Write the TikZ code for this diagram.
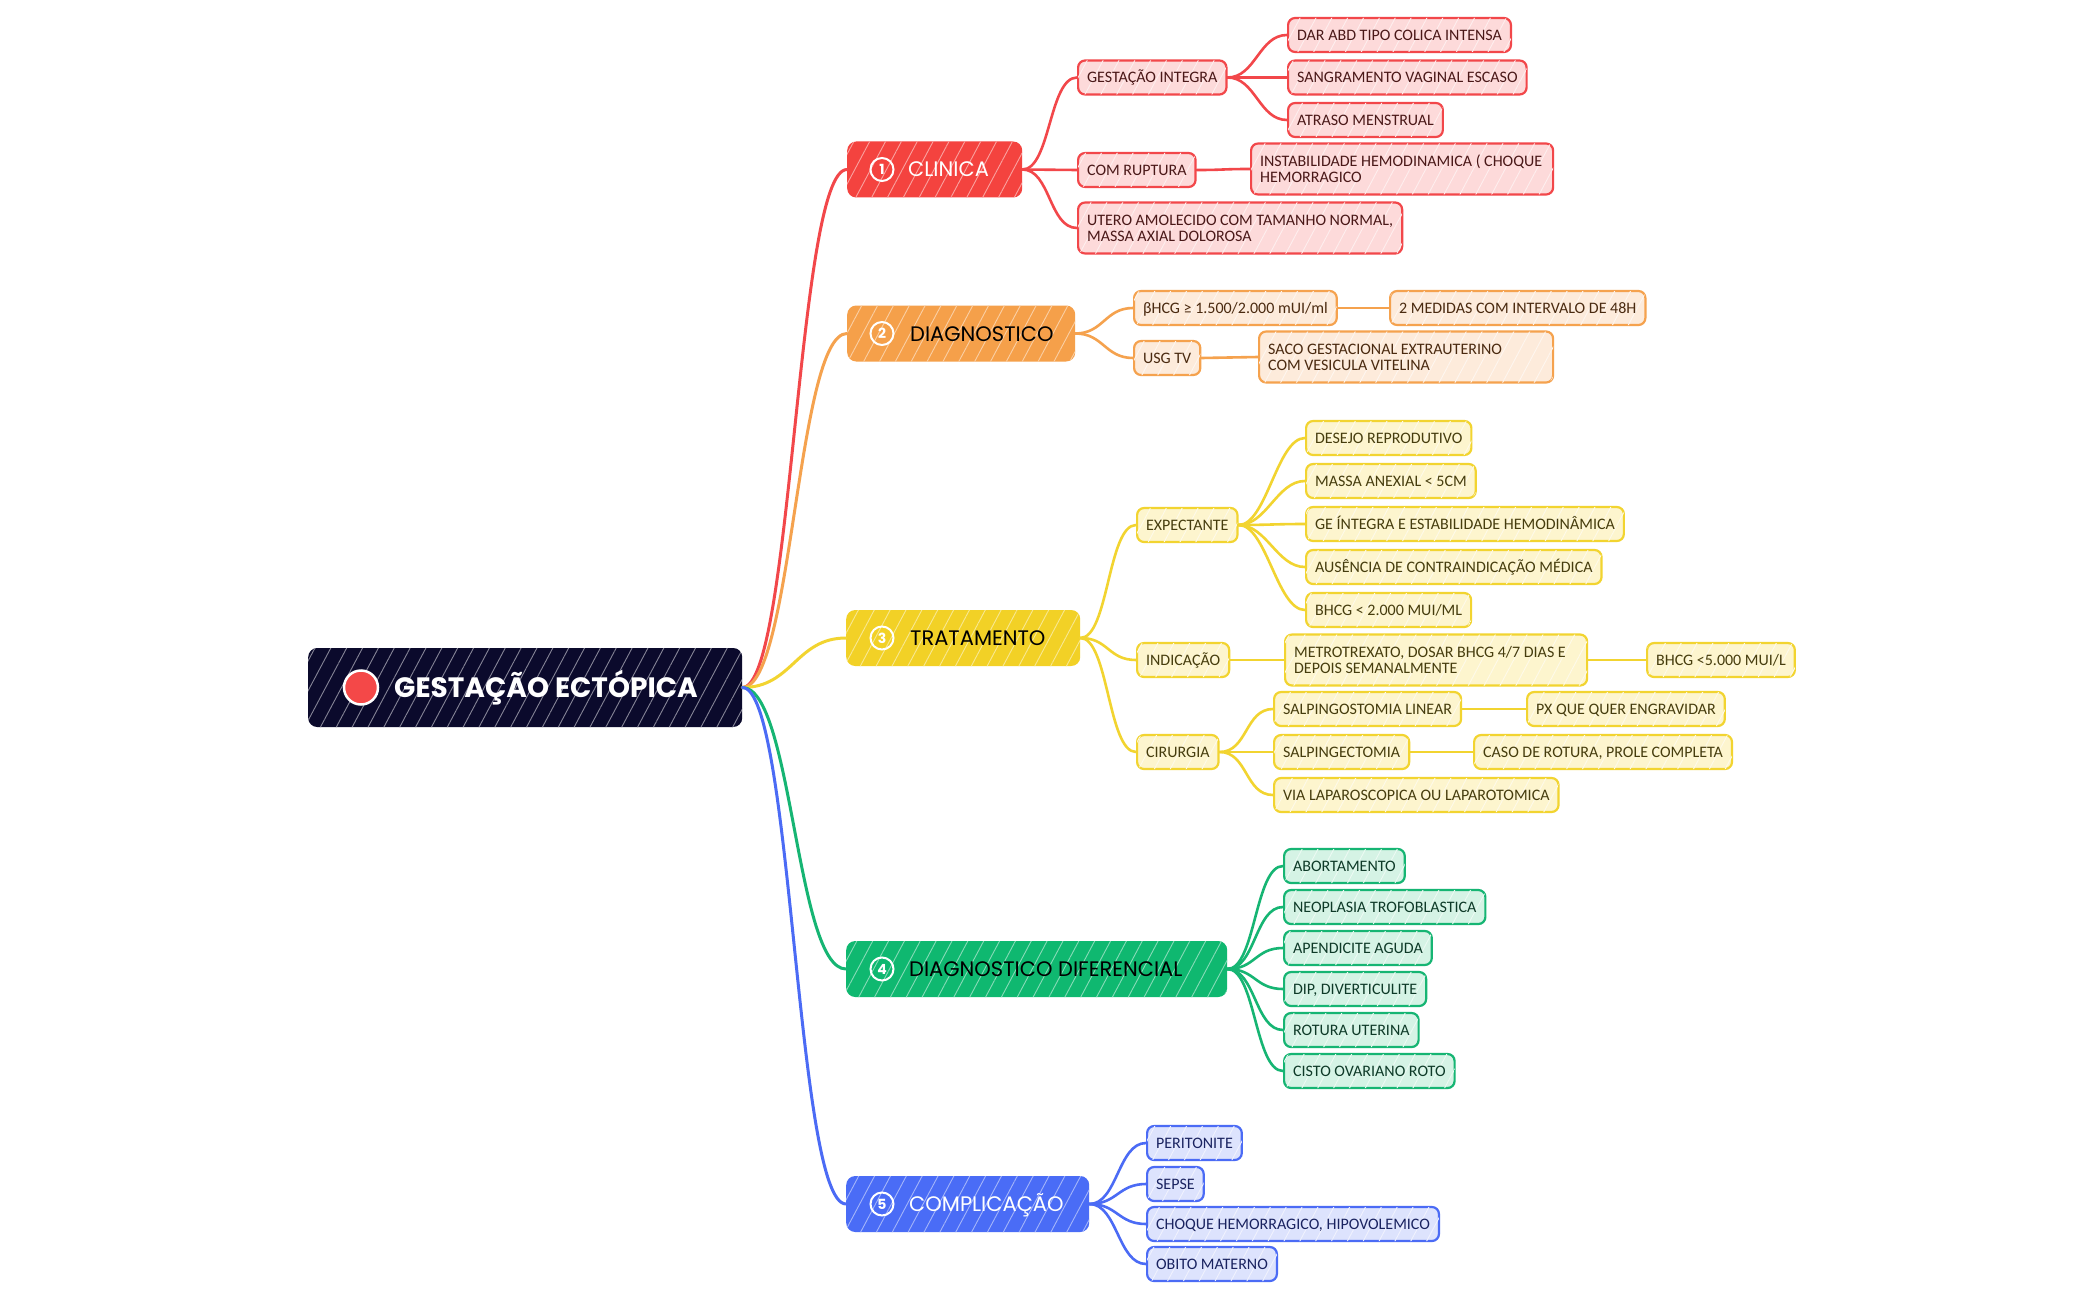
\documentclass[tikz,border=0pt]{standalone}
\usepackage{fontspec}
\setmainfont{Carlito}
\newfontfamily\hfont{Poppins}
\usetikzlibrary{patterns.meta}
\definecolor{rootC}{HTML}{0B0A2C}
\definecolor{dotC}{HTML}{F44848}
\definecolor{redH}{HTML}{F4433F}
\definecolor{redB}{HTML}{F2474A}
\definecolor{redF}{HTML}{FDDADA}
\definecolor{redT}{HTML}{4A1818}
\definecolor{orH}{HTML}{F5A04A}
\definecolor{orB}{HTML}{F5A24E}
\definecolor{orF}{HTML}{FDEBDB}
\definecolor{orT}{HTML}{4A2A10}
\definecolor{yeH}{HTML}{F2D126}
\definecolor{yeB}{HTML}{F2D430}
\definecolor{yeF}{HTML}{FDF5CE}
\definecolor{yeT}{HTML}{463D0E}
\definecolor{grH}{HTML}{0FB870}
\definecolor{grB}{HTML}{16B573}
\definecolor{grF}{HTML}{D5F3E5}
\definecolor{grT}{HTML}{0E3A28}
\definecolor{blH}{HTML}{4A6CF6}
\definecolor{blB}{HTML}{4B6BF5}
\definecolor{blF}{HTML}{DDE3FD}
\definecolor{blT}{HTML}{1A2360}
\tikzset{
  hatch/.style={postaction={pattern={Lines[angle=62,distance=14pt,line width=0.9pt]},pattern color=#1}},
  box/.style={draw, line width=2.2pt, rounded corners=7pt, inner xsep=9pt, inner ysep=0pt,
    minimum height=34pt, anchor=west, font=\fontsize{16}{16}\selectfont, text height=10.5pt, text depth=0pt},
  box2/.style={draw, line width=2.2pt, rounded corners=7pt, inner xsep=9pt, inner ysep=0pt,
    minimum height=51pt, anchor=west, align=left, font=\fontsize{16}{16}\selectfont},
  redc/.style={draw=redB, fill=redF, text=redT, hatch=white!55!redF},
  orc/.style={draw=orB, fill=orF, text=orT, hatch=white!55!orF},
  yec/.style={draw=yeB, fill=yeF, text=yeT, hatch=white!55!yeF},
  grc/.style={draw=grB, fill=grF, text=grT, hatch=white!55!grF},
  blc/.style={draw=blB, fill=blF, text=blT, hatch=white!55!blF},
  hdr/.style={rounded corners=9pt, minimum height=56pt, anchor=west, inner sep=0pt, fill=#1, hatch=white!50!#1},
  num/.style={circle, draw=white, line width=2pt, minimum size=23pt, inner sep=0pt, text=white,
    font=\hfont\fontsize{14}{14}\bfseries\selectfont},
  hlabel/.style={anchor=base west, inner sep=0pt, font=\hfont\fontsize{21}{21}\selectfont},
  conn/.style={line width=2.6pt, line cap=round},
  mainconn/.style={line width=3pt, line cap=round},
}
\newcommand\mmlink[3]{\draw[conn,#1] (#2.east) .. controls +(28,0) and +(-28,0) .. (#3.west);}
\newcommand\mmroot[2]{\draw[mainconn,#1] (root.east) .. controls +(50,0) and +(-50,0) .. (#2.west);}
\begin{document}
\begin{tikzpicture}[x=1pt,y=-1pt]
\useasboundingbox[fill=white] (0,0) rectangle (2098,1300);

% root
\node[fill=rootC, rounded corners=9pt, minimum width=434pt, minimum height=79pt, anchor=west, inner sep=0pt, hatch=rootC!50!white] (root) at (308,687.5) {};
\node[circle, fill=dotC, draw=white, line width=2.5pt, minimum size=34pt, inner sep=0pt] (rootdot) at (361,687.5) {};
\node[anchor=base west, text=white, font=\hfont\fontsize{28}{28}\bfseries\selectfont, inner sep=0pt] (rootlabel) at (394,697.5) {GESTAÇÃO ECTÓPICA};

% headers
\node[hdr=redH, minimum width=175pt] (h1) at (847,169.5) {};
\node[num] (c1) at (882,169.5) {1};
\node[hlabel, text=white] (l1) at (908,177) {CLINICA};

\node[hdr=orH, minimum width=228pt] (h2) at (847,333.5) {};
\node[num] (c2) at (882,333.5) {2};
\node[hlabel, text=black] (l2) at (910,341) {DIAGNOSTICO};

\node[hdr=yeH, minimum width=234pt] (h3) at (846,638) {};
\node[num] (c3) at (882,638) {3};
\node[hlabel, text=black] (l3) at (910,645.5) {TRATAMENTO};

\node[hdr=grH, minimum width=381pt] (h4) at (846,969) {};
\node[num] (c4) at (882,969) {4};
\node[hlabel, text=black] (l4) at (909,976.5) {DIAGNOSTICO DIFERENCIAL};

\node[hdr=blH, minimum width=243pt] (h5) at (846,1204) {};
\node[num] (c5) at (882,1204) {5};
\node[hlabel, text=white] (l5) at (909,1211.5) {COMPLICAÇÃO};

% clinica
\node[box, redc] (gi) at (1077,77.5) {GESTAÇÃO INTEGRA};
\node[box, redc] (cr) at (1077,170) {COM RUPTURA};
\node[box2, redc] (ut) at (1077,228) {UTERO AMOLECIDO COM TAMANHO NORMAL,\\MASSA AXIAL DOLOROSA};
\node[box, redc] (dar) at (1287,35) {DAR ABD TIPO COLICA INTENSA};
\node[box, redc] (san) at (1287,77.5) {SANGRAMENTO VAGINAL ESCASO};
\node[box, redc] (atr) at (1287,120) {ATRASO MENSTRUAL};
\node[box2, redc] (ins) at (1250,169) {\makebox[284pt][l]{INSTABILIDADE HEMODINAMICA ( CHOQUE}\\HEMORRAGICO};

% diagnostico
\node[box, orc] (bh) at (1133,308) {βHCG ≥ 1.500/2.000 mUI/ml};
\node[box, orc] (usg) at (1133,358) {USG TV};
\node[box2, orc] (saco) at (1258,357) {\makebox[276pt][l]{SACO GESTACIONAL EXTRAUTERINO}\\COM VESICULA VITELINA};
\node[box, orc] (med) at (1389,308) {2 MEDIDAS COM INTERVALO DE 48H};

% tratamento
\node[box, yec] (exp) at (1136,525) {EXPECTANTE};
\node[box, yec] (des) at (1305,438) {DESEJO REPRODUTIVO};
\node[box, yec] (mas) at (1305,481) {MASSA ANEXIAL < 5CM};
\node[box, yec] (ge) at (1305,524) {GE ÍNTEGRA E ESTABILIDADE HEMODINÂMICA};
\node[box, yec] (aus) at (1305,567) {AUSÊNCIA DE CONTRAINDICAÇÃO MÉDICA};
\node[box, yec] (bhb) at (1305,610) {BHCG < 2.000 MUI/ML};
\node[box, yec] (ind) at (1136,660) {INDICAÇÃO};
\node[box2, yec] (met) at (1284,660) {\makebox[284pt][l]{METROTREXATO, DOSAR BHCG 4/7 DIAS E}\\DEPOIS SEMANALMENTE};
\node[box, yec] (bhc) at (1646,660) {BHCG <5.000 MUI/L};
\node[box, yec] (cir) at (1136,752) {CIRURGIA};
\node[box, yec] (sal) at (1273,709) {SALPINGOSTOMIA LINEAR};
\node[box, yec] (px) at (1526,709) {PX QUE QUER ENGRAVIDAR};
\node[box, yec] (sec) at (1273,752) {SALPINGECTOMIA};
\node[box, yec] (caso) at (1473,752) {CASO DE ROTURA, PROLE COMPLETA};
\node[box, yec] (via) at (1273,795) {VIA LAPAROSCOPICA OU LAPAROTOMICA};

% diagnostico diferencial
\node[box, grc] (ab) at (1283,866) {ABORTAMENTO};
\node[box, grc] (neo) at (1283,907) {NEOPLASIA TROFOBLASTICA};
\node[box, grc] (ape) at (1283,948) {APENDICITE AGUDA};
\node[box, grc] (dip) at (1283,989) {DIP, DIVERTICULITE};
\node[box, grc] (rot) at (1283,1030) {ROTURA UTERINA};
\node[box, grc] (cis) at (1283,1071) {CISTO OVARIANO ROTO};

% complicacao
\node[box, blc] (per) at (1146,1143) {PERITONITE};
\node[box, blc] (sep) at (1146,1184) {SEPSE};
\node[box, blc] (cho) at (1146,1224) {CHOQUE HEMORRAGICO, HIPOVOLEMICO};
\node[box, blc] (obi) at (1146,1264) {OBITO MATERNO};

% connectors
\mmroot{redB}{h1}
\mmroot{orB}{h2}
\mmroot{yeB}{h3}
\mmroot{grB}{h4}
\mmroot{blB}{h5}

\mmlink{redB}{h1}{gi}
\mmlink{redB}{h1}{cr}
\mmlink{redB}{h1}{ut}
\mmlink{redB}{gi}{dar}
\mmlink{redB}{gi}{san}
\mmlink{redB}{gi}{atr}
\mmlink{redB}{cr}{ins}

\mmlink{orB}{h2}{bh}
\mmlink{orB}{h2}{usg}
\mmlink{orB}{bh}{med}
\mmlink{orB}{usg}{saco}

\mmlink{yeB}{h3}{exp}
\mmlink{yeB}{h3}{ind}
\mmlink{yeB}{h3}{cir}
\mmlink{yeB}{exp}{des}
\mmlink{yeB}{exp}{mas}
\mmlink{yeB}{exp}{ge}
\mmlink{yeB}{exp}{aus}
\mmlink{yeB}{exp}{bhb}
\mmlink{yeB}{ind}{met}
\mmlink{yeB}{met}{bhc}
\mmlink{yeB}{cir}{sal}
\mmlink{yeB}{cir}{sec}
\mmlink{yeB}{cir}{via}
\mmlink{yeB}{sal}{px}
\mmlink{yeB}{sec}{caso}

\mmlink{grB}{h4}{ab}
\mmlink{grB}{h4}{neo}
\mmlink{grB}{h4}{ape}
\mmlink{grB}{h4}{dip}
\mmlink{grB}{h4}{rot}
\mmlink{grB}{h4}{cis}

\mmlink{blB}{h5}{per}
\mmlink{blB}{h5}{sep}
\mmlink{blB}{h5}{cho}
\mmlink{blB}{h5}{obi}
\end{tikzpicture}
\end{document}
